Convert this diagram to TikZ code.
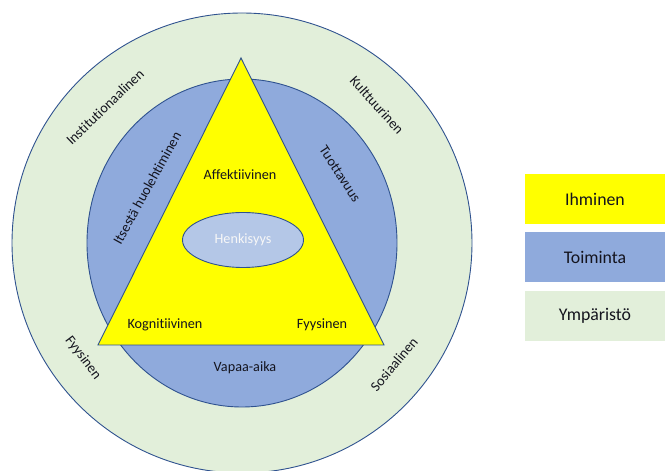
\documentclass[tikz,border=0pt]{standalone}
\usepackage{fontspec}
\setmainfont{Carlito}[Ligatures=NoCommon]
\usetikzlibrary{shapes.geometric, positioning}

\definecolor{ympcol}{HTML}{E2EFDA}
\definecolor{toicol}{HTML}{8FAADC}
\definecolor{ihmcol}{HTML}{FFFF00}
\definecolor{henkcol}{HTML}{B4C7E7}
\definecolor{rajacol}{HTML}{2F528F}
\definecolor{tekstcol}{HTML}{14141E}

\tikzset{
    raja/.style={draw=rajacol, line width=0.9pt},
    osa/.style={font=\fontsize{14.2}{16}\selectfont, text=tekstcol, inner sep=1pt},
    selite/.style={minimum width=140pt, minimum height=50pt, inner sep=0pt,
        font=\fontsize{17.8}{20}\selectfont, text=tekstcol}
}

\begin{document}
\begin{tikzpicture}[x=1pt, y=1pt]
    \def \Ro {230}
    \def \Rx {155}
    \def \Ry {164}
    \useasboundingbox (0,0) rectangle (665,471);
    \coordinate (keski) at (242, 228);
    \draw[raja, fill=ympcol] (keski) circle [radius=\Ro];
    \draw[raja, fill=toicol] (keski) ellipse [x radius=\Rx, y radius=\Ry];
    % kolmio
    \coordinate (a1) at (241, 413);
    \coordinate (a2) at (98, 126);
    \coordinate (a3) at (384, 126);
    \draw[raja, fill=ihmcol] (a1) -- (a2) -- (a3) -- cycle;
    \node[ellipse, raja, fill=henkcol, minimum width=121pt, minimum height=55pt,
        inner sep=0pt, osa, text=white!94!gray] (henki) at (243, 231) {Henkisyys};
    \node[osa] (affekt) at (240, 296) {Affektiivinen};
    \node[osa] (kogn) at (165, 146) {Kognitiivinen};
    \node[osa] (fyys) at (322, 146) {Fyysinen};
    % toiminta
    \node[osa] (vapaa) at (245, 103) {Vapaa-aika};
    \node[osa, rotate=61] (itse) at (147, 283) {Itsestä huolehtiminen};
    \node[osa, rotate=-57] (tuott) at (340, 297) {Tuottavuus};
    % ympäristö
    \node[osa, rotate=44] (inst) at (105, 364) {Institutionaalinen};
    \node[osa, rotate=-48] (kult) at (377, 366) {Kulttuurinen};
    \node[osa, rotate=-53] (fyysu) at (83, 113) {Fyysinen};
    \node[osa, rotate=50] (sos) at (394, 107) {Sosiaalinen};
    % selitteet
    \node[selite, fill=ihmcol] (ihminen) at (595, 272) {Ihminen};
    \node[selite, fill=toicol, below=8pt of ihminen] (toiminta) {Toiminta};
    \node[selite, fill=ympcol, below=8pt of toiminta] (ymparisto) {Ympäristö};
\end{tikzpicture}
\end{document}
